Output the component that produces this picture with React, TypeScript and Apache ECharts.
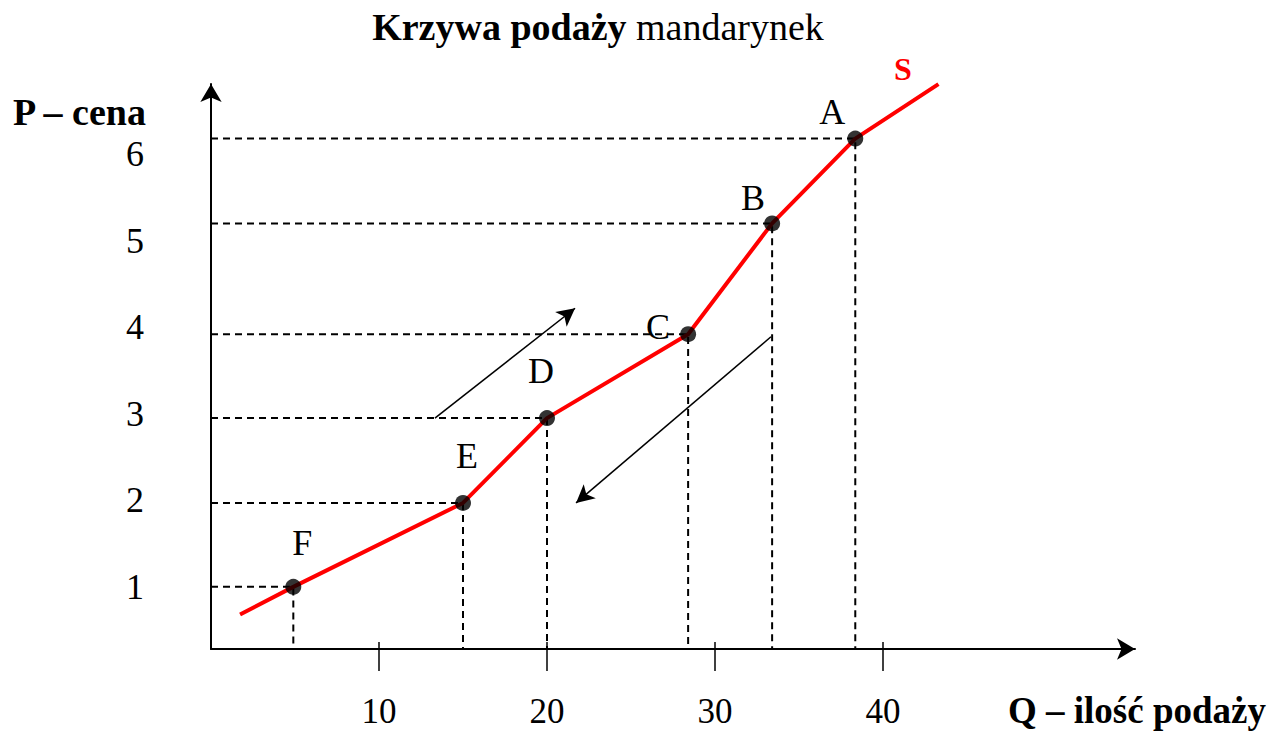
import React, { useEffect, useRef } from 'react';
import * as echarts from 'echarts';

// ---- data ----
const pointNames = ['F', 'E', 'D', 'C', 'B', 'A'];
const quantities = [4.9, 15, 20, 28.4, 33.4, 38.35];
const prices = [1.0, 1.97, 2.95, 3.92, 5.2, 6.18];
const curveStart = [1.73, 0.68];
const curveEnd = [43.3, 6.81];
const xTickValues = [10, 20, 30, 40];
const yTickValues = [1, 2, 3, 4, 5, 6];
const arrowUp = [[13.33, 2.95], [21.67, 4.22]];
const arrowDown = [[33.33, 3.89], [21.73, 1.97]];
const xRange = [0, 55];
const yRange = [0.282, 6.811];

// ---- styling ----
const FONT = "'Liberation Serif', 'Times New Roman', serif";
const labelOffsets = [[9, -44], [4, -47], [-6, -47], [-30, -7], [-19, -25], [-23, -27]];

export default function App() {
  const ref = useRef<HTMLDivElement>(null);
  useEffect(() => {
    document.body.style.margin = '0';
    const chart = echarts.init(ref.current!, null, { renderer: 'svg' });
    const dashStyle = { color: '#000', width: 2, type: [7, 5] as any };
    const guideSeries = pointNames.map((n, i) => ({
      type: 'line',
      name: 'guide-' + n,
      data: [[xRange[0], prices[i]], [quantities[i], prices[i]], [quantities[i], yRange[0]]],
      symbol: 'none',
      lineStyle: dashStyle,
      silent: true,
      z: 1,
    }));
    const option: any = {
      animation: false,
      grid: { left: 211, top: 84, right: 142, bottom: 83, containLabel: false, outerBoundsMode: 'none' },
      xAxis: [
        {
          type: 'value', min: xRange[0], max: xRange[1],
          axisLine: { show: true, symbol: ['none', 'arrow'], symbolSize: [16, 18], lineStyle: { color: '#000', width: 2 } },
          axisTick: { show: true, customValues: xTickValues, length: 22, lineStyle: { color: '#000', width: 1.5 } },
          axisLabel: { customValues: xTickValues, margin: 47, lineHeight: 30, fontFamily: FONT, fontSize: 35, color: '#000' },
          splitLine: { show: false },
        },
        {
          type: 'value', min: xRange[0], max: xRange[1], position: 'bottom',
          axisLine: { show: false },
          axisTick: { show: true, inside: true, customValues: xTickValues, length: 7, lineStyle: { color: '#000', width: 1.5 } },
          axisLabel: { show: false },
          splitLine: { show: false },
        },
      ],
      yAxis: {
        type: 'value', min: yRange[0], max: yRange[1],
        axisLine: { show: true, symbol: ['none', 'arrow'], symbolSize: [16, 18], lineStyle: { color: '#000', width: 2 } },
        axisTick: { show: false },
        axisLabel: { customValues: yTickValues, margin: 67, fontFamily: FONT, fontSize: 36, color: '#000' },
        splitLine: { show: false },
      },
      series: [
        ...guideSeries,
        {
          type: 'line',
          name: 'S',
          data: [curveStart, ...quantities.map((q, i) => [q, prices[i]]), curveEnd],
          symbol: 'none',
          clip: false,
          lineStyle: { color: '#ff0000', width: 4 },
          z: 3,
          markLine: {
            silent: true,
            symbol: ['none', 'arrow'],
            symbolSize: [14, 18],
            label: { show: false },
            lineStyle: { color: '#000', width: 1.5, type: 'solid' },
            data: [
              [{ coord: arrowUp[0] }, { coord: arrowUp[1] }],
              [{ coord: arrowDown[0] }, { coord: arrowDown[1] }],
            ],
          },
        },
        {
          type: 'scatter',
          name: 'points',
          data: pointNames.map((n, i) => ({
            name: n,
            value: [quantities[i], prices[i]],
            label: { offset: labelOffsets[i] },
          })),
          symbolSize: 16,
          itemStyle: { color: '#000' },
          label: {
            show: true, position: 'inside', formatter: '{b}', fontFamily: FONT, fontSize: 36,
            color: '#000', textBorderWidth: 0, opacity: 1,
          },
          z: 4,
        },
      ],
      graphic: [
        {
          type: 'text', x: 598, y: 27,
          style: {
            text: '{b|Krzywa podaży }{r|mandarynek}',
            align: 'center', verticalAlign: 'middle',
            rich: {
              b: { fontFamily: FONT, fontSize: 38, fontWeight: 'bold', fill: '#000', color: '#000' },
              r: { fontFamily: FONT, fontSize: 38, fill: '#000', color: '#000' },
            },
          },
        },
        {
          type: 'text', x: 13, y: 112,
          style: { text: 'P – cena', fontFamily: FONT, fontSize: 38, fontWeight: 'bold', fill: '#000', align: 'left', verticalAlign: 'middle' },
        },
        {
          type: 'text', x: 1008, y: 710,
          style: { text: 'Q – ilość podaży', fontFamily: FONT, fontSize: 37, fontWeight: 'bold', fill: '#000', align: 'left', verticalAlign: 'middle' },
        },
        {
          type: 'text', x: 903, y: 69,
          style: { text: 'S', fontFamily: FONT, fontSize: 32, fontWeight: 'bold', fill: '#ff0000', align: 'center', verticalAlign: 'middle' },
        },
      ],
    };
    chart.setOption(option);
    return () => chart.dispose();
  }, []);
  return <div ref={ref} style={{ width: 1277, height: 732 }} />;
}
